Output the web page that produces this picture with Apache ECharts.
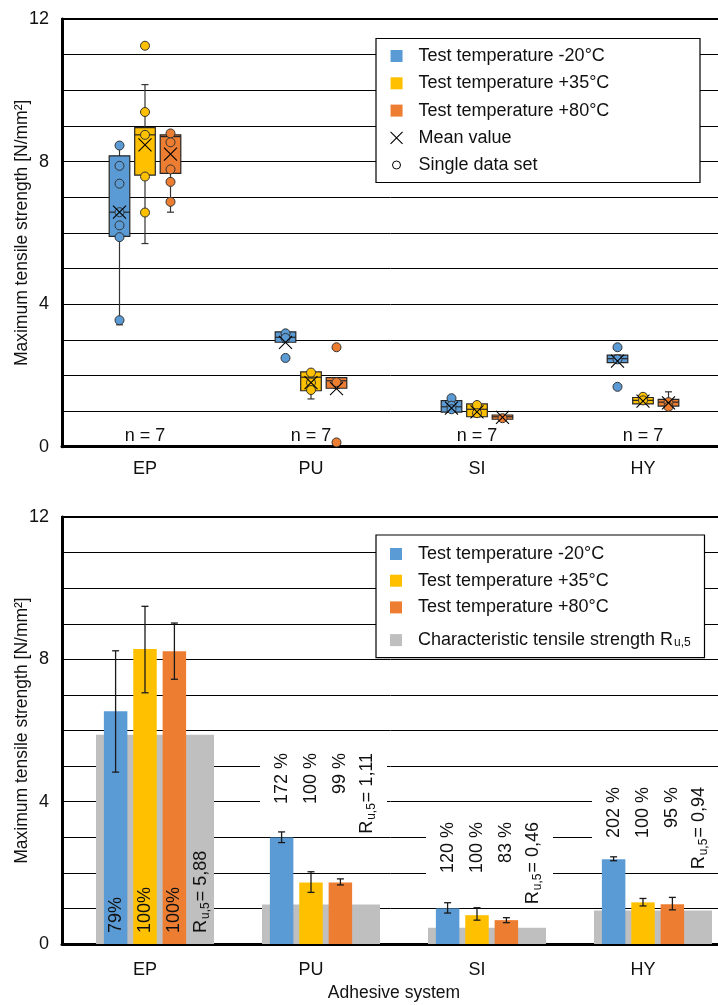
<!DOCTYPE html>
<html>
<head>
<meta charset="utf-8">
<script src="https://cdn.jsdelivr.net/npm/echarts@6.0.0/dist/echarts.min.js"></script>
<style>
body { margin: 0; background: #fff; }
#chart-box { width: 718px; height: 490px; }
#chart-bar { width: 718px; height: 515px; }
</style>
</head>
<body>
<div id="chart-box"></div>
<div id="chart-bar"></div>
<script>
var categories = ["EP", "PU", "SI", "HY"];
var temps = ["Test temperature -20°C", "Test temperature +35°C", "Test temperature +80°C"];
var grayName = "Characteristic tensile strength Ru,5";
var yTickLabels = [0, 4, 8, 12];
var sampleSize = [7, 7, 7, 7];

// box statistics per category: [min, Q1, median, Q3, max]
var box20 = [[3.42, 5.90, 6.58, 8.16, 8.45], [2.93, 2.93, 3.07, 3.22, 3.22], [0.97, 0.97, 1.12, 1.29, 1.36], [2.36, 2.36, 2.47, 2.57, 2.57]];
var box35 = [[5.70, 7.62, 8.75, 8.95, 10.16], [1.34, 1.57, 1.95, 2.10, 2.10], [0.84, 0.84, 1.05, 1.20, 1.20], [1.20, 1.20, 1.30, 1.38, 1.40]];
var box80 = [[6.58, 7.67, 8.70, 8.75, 8.79], [1.64, 1.64, 1.85, 1.94, 1.94], [0.77, 0.77, 0.84, 0.89, 0.89], [1.12, 1.14, 1.25, 1.33, 1.54]];
var mean20 = [6.58, 2.93, 1.08, 2.40];
var mean35 = [8.47, 1.80, 0.98, 1.28];
var mean80 = [8.21, 1.63, 0.82, 1.23];
// single data sets per category
var pts20 = [[8.45, 7.88, 7.38, 6.58, 6.21, 5.88, 3.55], [3.18, 3.05, 2.49], [1.36, 1.15, 1.05], [2.79, 2.45, 1.68]];
var pts35 = [[11.25, 9.39, 8.75, 7.58, 6.57], [2.08, 1.80, 1.59], [1.17, 0.94], [1.40, 1.30]];
var pts80 = [[8.79, 8.54, 7.78, 7.43, 6.87], [2.79, 1.81, 0.12], [0.80], [1.25, 1.12]];

// bar chart: mean values, error ranges [low, high], characteristic strength
var bar20 = [6.54, 2.99, 1.00, 2.38];
var bar35 = [8.29, 1.73, 0.81, 1.17];
var bar80 = [8.23, 1.73, 0.67, 1.12];
var err20 = [[4.83, 8.24], [2.85, 3.15], [0.87, 1.16], [2.34, 2.45]];
var err35 = [[7.06, 9.49], [1.45, 2.03], [0.67, 1.02], [1.07, 1.28]];
var err80 = [[7.44, 9.02], [1.66, 1.83], [0.60, 0.74], [0.96, 1.31]];
var charStrength = [5.88, 1.11, 0.46, 0.94];
var pct20 = ["79%", "172 %", "120 %", "202 %"];
var pct35 = ["100%", "100 %", "100 %", "100 %"];
var pct80 = ["100%", "99 %", "83 %", "95 %"];
// where the ratio labels sit: null = inside the bars, else top of the label column
var labelTop = [null, 5.37, 3.43, 4.41];

var colors = ["#5b9bd5", "#ffc000", "#ed7d31"];
var gray = "#bfbfbf";
var ink = "#111";
var font = "Liberation Sans, Arial, sans-serif";
var xMark = "path://M0,0L10,10M10,0L0,10";
var slot = 25.5;   // box spacing in the top chart
var barSlot = 29.4; // bar spacing in the bottom chart

function yAxisCfg() {
  return {
    type: "value", min: 0, max: 12, interval: 1,
    name: "Maximum tensile strength [N/mm²]",
    nameLocation: "middle", nameGap: 31, nameMoveOverlap: false,
    nameTextStyle: { fontSize: 17.5, color: ink, fontFamily: font },
    axisLine: { show: true, lineStyle: { color: "#000", width: 3 } },
    axisTick: { show: false },
    axisLabel: {
      fontSize: 18, color: ink, fontFamily: font, margin: 13,
      formatter: function (v) { return yTickLabels.indexOf(v) >= 0 ? String(v) : ""; }
    },
    splitLine: { show: true, lineStyle: { color: "#000", width: 1 } }
  };
}

function boxItem(dx, color) {
  return function (params, api) {
    var ci = api.value(0);
    var x = api.coord([ci, 0])[0] + dx;
    var y = [1, 2, 3, 4, 5].map(function (k) { return api.coord([ci, api.value(k)])[1]; });
    var hw = 10.3, cw = 3.5;
    var ln = { stroke: "#333", lineWidth: 1.2 };
    return {
      type: "group",
      children: [
        { type: "line", shape: { x1: x, y1: y[0], x2: x, y2: y[4] }, style: ln },
        { type: "line", shape: { x1: x - cw, y1: y[0], x2: x + cw, y2: y[0] }, style: ln },
        { type: "line", shape: { x1: x - cw, y1: y[4], x2: x + cw, y2: y[4] }, style: ln },
        { type: "rect", shape: { x: x - hw, y: y[3], width: hw * 2, height: y[1] - y[3] }, style: { fill: color, stroke: "#262626", lineWidth: 1.2 } },
        { type: "line", shape: { x1: x - hw, y1: y[2], x2: x + hw, y2: y[2] }, style: { stroke: "#262626", lineWidth: 1.2 } }
      ]
    };
  };
}

function flatPts(pts) {
  var out = [];
  pts.forEach(function (list, i) { list.forEach(function (v) { out.push([i, v]); }); });
  return out;
}

var boxSets = [box20, box35, box80];
var meanSets = [mean20, mean35, mean80];
var ptSets = [pts20, pts35, pts80];

function getBox() {
  var myChart = echarts.init(document.getElementById("chart-box"));
  var series = [];
  boxSets.forEach(function (b, k) {
    series.push({
      name: temps[k], type: "custom", z: 2,
      renderItem: boxItem((k - 1) * slot, colors[k]),
      data: b.map(function (r, i) { return [i].concat(r); })
    });
  });
  ptSets.forEach(function (p, k) {
    series.push({
      name: "Single data set", type: "scatter", z: 3,
      symbol: "circle", symbolSize: 9, symbolOffset: [(k - 1) * slot, 0],
      itemStyle: { color: colors[k], borderColor: "#333", borderWidth: 1, opacity: 1 },
      data: flatPts(p)
    });
  });
  meanSets.forEach(function (m, k) {
    series.push({
      name: "Mean value", type: "scatter", z: 4,
      symbol: xMark, symbolSize: 13, symbolOffset: [(k - 1) * slot, 0],
      itemStyle: { color: "rgba(0,0,0,0)", borderColor: "#000", borderWidth: 1.1, opacity: 1 },
      data: m.map(function (v, i) { return [i, v]; })
    });
  });
  series.push({
    name: "n", type: "scatter", z: 4, symbolSize: 1,
    itemStyle: { color: "rgba(0,0,0,0)" },
    label: {
      show: true, position: "top", distance: 1, fontSize: 18, color: ink, fontFamily: font, opacity: 1,
      formatter: function (p) { return "n = " + sampleSize[p.dataIndex]; }
    },
    data: categories.map(function (c, i) { return [i, 0]; })
  });

  myChart.setOption({
    animation: false,
    textStyle: { fontFamily: font, color: ink },
    grid: { left: 62, right: -8, top: 19, bottom: 43.3, show: true, borderColor: "#000", borderWidth: 2, containLabel: false, outerBoundsMode: "none" },
    graphic: [{
      type: "rect", z: 3,
      shape: { x: 376, y: 38.5, width: 324, height: 144 },
      style: { fill: "#fff", stroke: "#000", lineWidth: 1.2 }
    }],
    legend: [{
      orient: "vertical", left: 390, top: 47, padding: 0, itemGap: 9.3,
      itemWidth: 12, itemHeight: 12, selectedMode: false,
      textStyle: { fontSize: 18, lineHeight: 18, color: ink, fontFamily: font, padding: [0, 0, 0, 11] },
      data: [
        { name: temps[0], icon: "rect", itemStyle: { color: colors[0], borderWidth: 0 } },
        { name: temps[1], icon: "rect", itemStyle: { color: colors[1], borderWidth: 0 } },
        { name: temps[2], icon: "rect", itemStyle: { color: colors[2], borderWidth: 0 } },
        { name: "Mean value", icon: xMark, itemStyle: { color: "rgba(0,0,0,0)", borderColor: "#000", borderWidth: 1.1 } }
      ]
    }, {
      orient: "vertical", left: 392, top: 156, padding: 0,
      itemWidth: 8, itemHeight: 8, selectedMode: false,
      textStyle: { fontSize: 18, lineHeight: 18, color: ink, fontFamily: font, padding: [0, 0, 0, 13] },
      data: [{ name: "Single data set", icon: "circle", itemStyle: { color: "#fff", borderColor: "#000", borderWidth: 1 } }]
    }],
    xAxis: {
      type: "category", data: categories,
      axisLine: { lineStyle: { color: "#000", width: 3 } },
      axisTick: { show: false },
      axisLabel: { fontSize: 18, color: ink, fontFamily: font, margin: 13 },
      splitLine: { show: false }
    },
    yAxis: yAxisCfg(),
    series: series
  });
}

function errItem(dx) {
  return function (params, api) {
    var ci = api.value(0);
    var x = api.coord([ci, 0])[0] + dx;
    var lo = api.coord([ci, api.value(1)])[1];
    var hi = api.coord([ci, api.value(2)])[1];
    var cw = 3.5;
    var ln = { stroke: "#1a1a1a", lineWidth: 1.3 };
    return {
      type: "group",
      children: [
        { type: "line", shape: { x1: x, y1: lo, x2: x, y2: hi }, style: ln },
        { type: "line", shape: { x1: x - cw, y1: lo, x2: x + cw, y2: lo }, style: ln },
        { type: "line", shape: { x1: x - cw, y1: hi, x2: x + cw, y2: hi }, style: ln }
      ]
    };
  };
}

var labelRich = {
  r: { fontSize: 18, lineHeight: 20, fontFamily: font, fill: ink, verticalAlign: "top" },
  sub: { fontSize: 12, lineHeight: 12, fontFamily: font, fill: ink, padding: [12, 1, 0, 1], verticalAlign: "bottom" }
};

function ratioTexts(params, api) {
  var ci = api.value(0);
  var cx = api.coord([ci, 0])[0];
  var inside = labelTop[ci] === null;
  var y = inside ? api.coord([ci, 0])[1] - 11 : api.coord([ci, labelTop[ci]])[1];
  var texts = [pct20[ci], pct35[ci], pct80[ci]];
  var dxs = [-barSlot, 0, barSlot];
  var children = texts.map(function (t, k) {
    return {
      type: "text", x: cx + dxs[k], y: y, rotation: Math.PI / 2,
      style: { text: t, fontSize: 18, fontFamily: font, fill: ink, align: inside ? "left" : "right", verticalAlign: "middle" }
    };
  });
  var r = "{r|R}{sub|u,5}{r|= " + charStrength[ci].toFixed(2).replace(".", ",") + "}";
  children.push({
    type: "text", x: cx + 57, y: y, rotation: Math.PI / 2,
    style: { text: r, rich: labelRich, fill: ink, align: inside ? "left" : "right", verticalAlign: "middle" }
  });
  return { type: "group", children: children };
}

function labelBox(params, api) {
  var ci = api.value(0);
  if (labelTop[ci] === null) return null;
  var cx = api.coord([ci, 0])[0];
  var y = api.coord([ci, labelTop[ci]])[1];
  return { type: "rect", shape: { x: cx - 51, y: y - 4, width: 127, height: 85 }, style: { fill: "#fff" } };
}

function grayItem(params, api) {
  var ci = api.value(0);
  var top = api.coord([ci, api.value(1)]);
  var base = api.coord([ci, 0]);
  return { type: "rect", shape: { x: top[0] - 49, y: top[1], width: 118, height: base[1] - top[1] }, style: { fill: gray } };
}

function getBar() {
  var myChart = echarts.init(document.getElementById("chart-bar"));
  var barSets = [bar20, bar35, bar80];
  var errSets = [err20, err35, err80];
  var series = [{
    name: grayName, type: "custom", z: 1, renderItem: grayItem,
    data: charStrength.map(function (v, i) { return [i, v]; })
  }, {
    name: "label box", type: "custom", z: 1, renderItem: labelBox,
    data: categories.map(function (c, i) { return [i, 0]; })
  }];
  barSets.forEach(function (b, k) {
    series.push({
      name: temps[k], type: "bar", z: 2, barWidth: 23.5, barGap: "25%",
      itemStyle: { color: colors[k] },
      data: b
    });
  });
  errSets.forEach(function (e, k) {
    series.push({
      name: "error " + k, type: "custom", z: 3, renderItem: errItem((k - 1) * barSlot),
      data: e.map(function (r, i) { return [i, r[0], r[1]]; })
    });
  });
  series.push({
    name: "ratios", type: "custom", z: 4, renderItem: ratioTexts,
    data: categories.map(function (c, i) { return [i, 0]; })
  });

  myChart.setOption({
    animation: false,
    textStyle: { fontFamily: font, color: ink },
    grid: { left: 62, right: -8, top: 27, bottom: 61, show: true, borderColor: "#000", borderWidth: 2, containLabel: false, outerBoundsMode: "none" },
    graphic: [{
      type: "rect", z: 3,
      shape: { x: 376, y: 45, width: 328.5, height: 122.7 },
      style: { fill: "#fff", stroke: "#000", lineWidth: 1.2 }
    }],
    legend: {
      orient: "vertical", left: 390, top: 55, padding: 0, itemGap: 8.7,
      itemWidth: 12, itemHeight: 12, selectedMode: false,
      textStyle: {
        fontSize: 18, lineHeight: 18, color: ink, fontFamily: font, padding: [0, 0, 0, 11],
        rich: { sub: { fontSize: 12, lineHeight: 12, color: ink, fontFamily: font, padding: [12, 0, 0, 1], verticalAlign: "bottom" } }
      },
      formatter: function (name) {
        return name === grayName ? "Characteristic tensile strength R{sub|u,5}" : name;
      },
      data: [
        { name: temps[0], icon: "rect", itemStyle: { color: colors[0], borderWidth: 0 } },
        { name: temps[1], icon: "rect", itemStyle: { color: colors[1], borderWidth: 0 } },
        { name: temps[2], icon: "rect", itemStyle: { color: colors[2], borderWidth: 0 } },
        { name: grayName, icon: "rect", itemStyle: { color: gray, borderWidth: 0 } }
      ]
    },
    xAxis: {
      type: "category", data: categories,
      name: "Adhesive system", nameLocation: "middle", nameGap: 40, nameMoveOverlap: false,
      nameTextStyle: { fontSize: 17.5, color: ink, fontFamily: font },
      axisLine: { lineStyle: { color: "#000", width: 3 } },
      axisTick: { show: false },
      axisLabel: { fontSize: 18, color: ink, fontFamily: font, margin: 17 },
      splitLine: { show: false }
    },
    yAxis: yAxisCfg(),
    series: series
  });
}

getBox();
getBar();
</script>
</body>
</html>
